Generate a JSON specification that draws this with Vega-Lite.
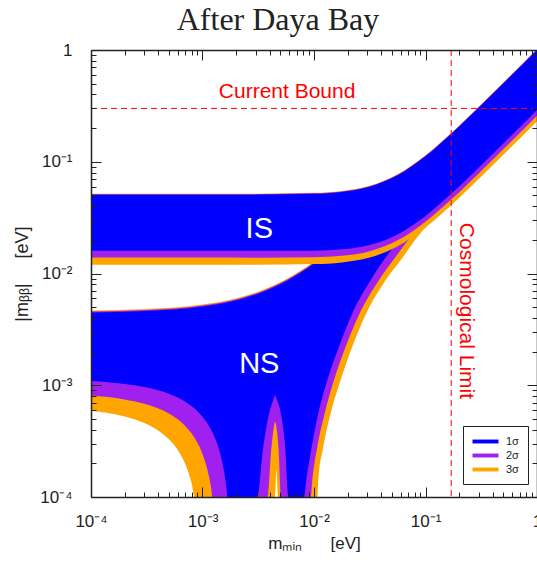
{
  "$schema": "https://vega.github.io/schema/vega-lite/v6.json",
  "width": 446,
  "height": 447,
  "autosize": {"type": "none"},
  "padding": {"left": 91, "top": 50, "right": 0, "bottom": 75},
  "background": "white",
  "config": {"view": {"stroke": null}},
  "title": {"text": "After Daya Bay", "font": "Liberation Serif", "fontSize": 32, "fontWeight": "normal", "color": "#222", "anchor": "middle", "frame": "group", "dx": -36, "dy": 41, "offset": 20, "baseline": "alphabetic"},
  "datasets": {
    "ns_upper": [
      {"sigma": "1σ", "m": 1e-4, "hi": 0.004478}, {"sigma": "1σ", "m": 3.162e-4, "hi": 0.004616}, {"sigma": "1σ", "m": 1e-3, "hi": 0.005064}, {"sigma": "1σ", "m": 1.778e-3, "hi": 0.005597}, {"sigma": "1σ", "m": 3.162e-3, "hi": 0.0066}, {"sigma": "1σ", "m": 5.623e-3, "hi": 0.008532}, {"sigma": "1σ", "m": 0.01, "hi": 0.0123}, {"sigma": "1σ", "m": 0.01778, "hi": 0.01949}, {"sigma": "1σ", "m": 0.03162, "hi": 0.03282}, {"sigma": "1σ", "m": 0.05623, "hi": 0.05701}, {"sigma": "1σ", "m": 0.1, "hi": 0.1005},
      {"sigma": "2σ", "m": 1e-4, "hi": 0.004568}, {"sigma": "2σ", "m": 3.162e-4, "hi": 0.004708}, {"sigma": "2σ", "m": 1e-3, "hi": 0.005165}, {"sigma": "2σ", "m": 1.778e-3, "hi": 0.005709}, {"sigma": "2σ", "m": 3.162e-3, "hi": 0.006732}, {"sigma": "2σ", "m": 5.623e-3, "hi": 0.008703}, {"sigma": "2σ", "m": 0.01, "hi": 0.01255}, {"sigma": "2σ", "m": 0.01778, "hi": 0.01988}, {"sigma": "2σ", "m": 0.03162, "hi": 0.03348}, {"sigma": "2σ", "m": 0.05623, "hi": 0.05815}, {"sigma": "2σ", "m": 0.1, "hi": 0.1025},
      {"sigma": "3σ", "m": 1e-4, "hi": 0.004657}, {"sigma": "3σ", "m": 3.162e-4, "hi": 0.004801}, {"sigma": "3σ", "m": 1e-3, "hi": 0.005267}, {"sigma": "3σ", "m": 1.778e-3, "hi": 0.005821}, {"sigma": "3σ", "m": 3.162e-3, "hi": 0.006864}, {"sigma": "3σ", "m": 5.623e-3, "hi": 0.008873}, {"sigma": "3σ", "m": 0.01, "hi": 0.01279}, {"sigma": "3σ", "m": 0.01778, "hi": 0.02027}, {"sigma": "3σ", "m": 0.03162, "hi": 0.03413}, {"sigma": "3σ", "m": 0.05623, "hi": 0.05929}, {"sigma": "3σ", "m": 0.1, "hi": 0.1045}
    ],
    "ns_lower": [
      {"sigma": "1σ", "m": 1e-4, "lo": 1.09e-3}, {"sigma": "1σ", "m": 2e-4, "lo": 1.027e-3}, {"sigma": "1σ", "m": 3e-4, "lo": 9.64e-4}, {"sigma": "1σ", "m": 5e-4, "lo": 8.38e-4}, {"sigma": "1σ", "m": 7e-4, "lo": 7.12e-4}, {"sigma": "1σ", "m": 9e-4, "lo": 5.86e-4}, {"sigma": "1σ", "m": 1.1e-3, "lo": 4.6e-4}, {"sigma": "1σ", "m": 1.3e-3, "lo": 3.34e-4}, {"sigma": "1σ", "m": 1.4e-3, "lo": 2.71e-4}, {"sigma": "1σ", "m": 1.5e-3, "lo": 2.08e-4}, {"sigma": "1σ", "m": 1.55e-3, "lo": 1.765e-4}, {"sigma": "1σ", "m": 1.6e-3, "lo": 1.45e-4}, {"sigma": "1σ", "m": 1.64e-3, "lo": 1.2e-4}, {"sigma": "1σ", "m": 1.671e-3, "lo": 1e-4},
      {"sigma": "1σ", "m": 3.097e-3, "lo": 1e-4}, {"sigma": "1σ", "m": 3.504e-3, "lo": 2.812e-4}, {"sigma": "1σ", "m": 3.965e-3, "lo": 5.623e-4}, {"sigma": "1σ", "m": 4.303e-3, "lo": 7.344e-4}, {"sigma": "1σ", "m": 4.484e-3, "lo": 8.14e-4}, {"sigma": "1σ", "m": 4.673e-3, "lo": 7.344e-4}, {"sigma": "1σ", "m": 5.043e-3, "lo": 5.623e-4}, {"sigma": "1σ", "m": 5.509e-3, "lo": 2.812e-4}, {"sigma": "1σ", "m": 5.895e-3, "lo": 1e-4},
      {"sigma": "1σ", "m": 8.14e-3, "lo": 1e-4}, {"sigma": "1σ", "m": 8.53e-3, "lo": 1.418e-4}, {"sigma": "1σ", "m": 9.538e-3, "lo": 2.812e-4}, {"sigma": "1σ", "m": 0.010924, "lo": 5.59e-4}, {"sigma": "1σ", "m": 0.013148, "lo": 1.108e-3}, {"sigma": "1σ", "m": 0.016713, "lo": 2.198e-3}, {"sigma": "1σ", "m": 0.02198, "lo": 4.367e-3}, {"sigma": "1σ", "m": 0.03208, "lo": 8.66e-3}, {"sigma": "1σ", "m": 0.04672, "lo": 0.01509}, {"sigma": "1σ", "m": 0.06363, "lo": 0.0214}, {"sigma": "1σ", "m": 0.07813, "lo": 0.0271}, {"sigma": "1σ", "m": 0.1, "lo": 0.03278},
      {"sigma": "2σ", "m": 1e-4, "lo": 8.1e-4}, {"sigma": "2σ", "m": 2e-4, "lo": 7.47e-4}, {"sigma": "2σ", "m": 3e-4, "lo": 6.84e-4}, {"sigma": "2σ", "m": 5e-4, "lo": 5.58e-4}, {"sigma": "2σ", "m": 7e-4, "lo": 4.32e-4}, {"sigma": "2σ", "m": 9e-4, "lo": 3.06e-4}, {"sigma": "2σ", "m": 1e-3, "lo": 2.43e-4}, {"sigma": "2σ", "m": 1.1e-3, "lo": 1.8e-4}, {"sigma": "2σ", "m": 1.15e-3, "lo": 1.485e-4}, {"sigma": "2σ", "m": 1.2e-3, "lo": 1.17e-4}, {"sigma": "2σ", "m": 1.227e-3, "lo": 1e-4},
      {"sigma": "2σ", "m": 3.828e-3, "lo": 1e-4}, {"sigma": "2σ", "m": 4.13e-3, "lo": 2.628e-4}, {"sigma": "2σ", "m": 4.303e-3, "lo": 3.805e-4}, {"sigma": "2σ", "m": 4.484e-3, "lo": 4.701e-4}, {"sigma": "2σ", "m": 4.673e-3, "lo": 3.805e-4}, {"sigma": "2σ", "m": 4.82e-3, "lo": 2.628e-4}, {"sigma": "2σ", "m": 5.074e-3, "lo": 1e-4},
      {"sigma": "2σ", "m": 9.343e-3, "lo": 1e-4}, {"sigma": "2σ", "m": 9.656e-3, "lo": 1.418e-4}, {"sigma": "2σ", "m": 0.010703, "lo": 2.812e-4}, {"sigma": "2σ", "m": 0.012463, "lo": 5.59e-4}, {"sigma": "2σ", "m": 0.01509, "lo": 1.108e-3}, {"sigma": "2σ", "m": 0.01919, "lo": 2.198e-3}, {"sigma": "2σ", "m": 0.02559, "lo": 4.367e-3}, {"sigma": "2σ", "m": 0.03805, "lo": 8.66e-3}, {"sigma": "2σ", "m": 0.05509, "lo": 0.01448}, {"sigma": "2σ", "m": 0.0831, "lo": 0.02445}, {"sigma": "2σ", "m": 0.1, "lo": 0.02908},
      {"sigma": "3σ", "m": 1e-4, "lo": 5.9e-4}, {"sigma": "3σ", "m": 2e-4, "lo": 5.246e-4}, {"sigma": "3σ", "m": 3e-4, "lo": 4.592e-4}, {"sigma": "3σ", "m": 4e-4, "lo": 3.938e-4}, {"sigma": "3σ", "m": 5e-4, "lo": 3.284e-4}, {"sigma": "3σ", "m": 6e-4, "lo": 2.63e-4}, {"sigma": "3σ", "m": 7e-4, "lo": 1.976e-4}, {"sigma": "3σ", "m": 7.5e-4, "lo": 1.649e-4}, {"sigma": "3σ", "m": 8e-4, "lo": 1.322e-4}, {"sigma": "3σ", "m": 8.49e-4, "lo": 1e-4},
      {"sigma": "3σ", "m": 4.457e-3, "lo": 1e-4}, {"sigma": "3σ", "m": 4.607e-3, "lo": 1.742e-4}, {"sigma": "3σ", "m": 4.771e-3, "lo": 1e-4},
      {"sigma": "3σ", "m": 0.010703, "lo": 1e-4}, {"sigma": "3σ", "m": 0.010924, "lo": 1.418e-4}, {"sigma": "3σ", "m": 0.01211, "lo": 2.812e-4}, {"sigma": "3σ", "m": 0.01409, "lo": 5.59e-4}, {"sigma": "3σ", "m": 0.01731, "lo": 1.108e-3}, {"sigma": "3σ", "m": 0.02198, "lo": 2.198e-3}, {"sigma": "3σ", "m": 0.02931, "lo": 4.367e-3}, {"sigma": "3σ", "m": 0.04367, "lo": 8.66e-3}, {"sigma": "3σ", "m": 0.06232, "lo": 0.0139}, {"sigma": "3σ", "m": 0.0866, "lo": 0.02184}, {"sigma": "3σ", "m": 0.1, "lo": 0.02583}, {"sigma": "3σ", "m": 0.11, "lo": 0.0279}
    ],
    "is_band": [
      {"sigma": "1σ", "m": 1e-4, "lo": 0.016, "hi": 0.0507}, {"sigma": "1σ", "m": 1e-3, "lo": 0.01597, "hi": 0.0507}, {"sigma": "1σ", "m": 3.162e-3, "lo": 0.01594, "hi": 0.0508}, {"sigma": "1σ", "m": 0.01, "lo": 0.01602, "hi": 0.05167}, {"sigma": "1σ", "m": 0.01778, "lo": 0.01645, "hi": 0.05372}, {"sigma": "1σ", "m": 0.03162, "lo": 0.01798, "hi": 0.05975}, {"sigma": "1σ", "m": 0.05623, "lo": 0.02239, "hi": 0.07571}, {"sigma": "1σ", "m": 0.1, "lo": 0.03278, "hi": 0.1121}, {"sigma": "1σ", "m": 0.1778, "lo": 0.05377, "hi": 0.1849}, {"sigma": "1σ", "m": 0.3162, "lo": 0.09298, "hi": 0.3203}, {"sigma": "1σ", "m": 0.5623, "lo": 0.1638, "hi": 0.5646}, {"sigma": "1σ", "m": 1, "lo": 0.2904, "hi": 1.0013},
      {"sigma": "2σ", "m": 1e-4, "lo": 0.0139, "hi": 0.05121}, {"sigma": "2σ", "m": 1e-3, "lo": 0.01388, "hi": 0.05121}, {"sigma": "2σ", "m": 3.162e-3, "lo": 0.01386, "hi": 0.05131}, {"sigma": "2σ", "m": 0.01, "lo": 0.01398, "hi": 0.05219}, {"sigma": "2σ", "m": 0.01778, "lo": 0.0144, "hi": 0.05426}, {"sigma": "2σ", "m": 0.03162, "lo": 0.01581, "hi": 0.06035}, {"sigma": "2σ", "m": 0.05623, "lo": 0.0198, "hi": 0.07647}, {"sigma": "2σ", "m": 0.1, "lo": 0.02908, "hi": 0.1132}, {"sigma": "2σ", "m": 0.1778, "lo": 0.04779, "hi": 0.1867}, {"sigma": "2σ", "m": 0.3162, "lo": 0.08269, "hi": 0.3235}, {"sigma": "2σ", "m": 0.5623, "lo": 0.1457, "hi": 0.5702}, {"sigma": "2σ", "m": 1, "lo": 0.2583, "hi": 1.0113},
      {"sigma": "3σ", "m": 1e-4, "lo": 0.012, "hi": 0.05171}, {"sigma": "3σ", "m": 1e-3, "lo": 0.01199, "hi": 0.05171}, {"sigma": "3σ", "m": 3.162e-3, "lo": 0.01199, "hi": 0.05182}, {"sigma": "3σ", "m": 0.01, "lo": 0.01214, "hi": 0.0527}, {"sigma": "3σ", "m": 0.01778, "lo": 0.01256, "hi": 0.05479}, {"sigma": "3σ", "m": 0.03162, "lo": 0.01388, "hi": 0.06095}, {"sigma": "3σ", "m": 0.05623, "lo": 0.0175, "hi": 0.07722}, {"sigma": "3σ", "m": 0.1, "lo": 0.02583, "hi": 0.1144}, {"sigma": "3σ", "m": 0.1778, "lo": 0.04255, "hi": 0.1886}, {"sigma": "3σ", "m": 0.3162, "lo": 0.07369, "hi": 0.3267}, {"sigma": "3σ", "m": 0.5623, "lo": 0.1299, "hi": 0.5759}, {"sigma": "3σ", "m": 1, "lo": 0.2303, "hi": 1.0213}
    ]
  },
  "layer": [
    {
      "data": {"name": "ns_upper"},
      "transform": [{"filter": "datum.sigma === '3σ'"}],
      "mark": {"type": "area", "interpolate": "monotone", "clip": true},
      "encoding": {
        "x": {"field": "m", "type": "quantitative", "scale": {"type": "log", "domain": [0.0001, 1]},
          "axis": {"orient": "bottom", "values": [0.0001,0.0002,0.0003,0.0004,0.0005,0.0006,0.0007,0.0008,0.0009,0.001,0.002,0.003,0.004,0.005,0.006,0.007,0.008,0.009,0.01,0.02,0.03,0.04,0.05,0.06,0.07,0.08,0.09,0.1,0.2,0.3,0.4,0.5,0.6,0.7,0.8,0.9,1], "ticks": false,
            "labelExpr": "abs(log(datum.value)/LN10 - round(log(datum.value)/LN10)) > 0.001 ? '' : datum.value > 0.5 ? '1' : datum.value > 0.05 ? '10⁻¹' : datum.value > 0.005 ? '10⁻²' : datum.value > 0.0005 ? '10⁻³' : '10⁻⁴'",
            "grid": true, "gridColor": "#222", "gridWidth": 1, "gridOpacity": 1,
            "gridDash": {"condition": {"test": "abs(log(datum.value)/LN10 - round(log(datum.value)/LN10)) < 0.001", "value": [10, 427, 10]}, "value": [5, 437, 5]},
            "domain": true, "domainColor": "#222", "domainWidth": 1.5,
            "labelFont": "Liberation Sans", "labelFontSize": 17, "labelColor": "#222", "labelPadding": 16, "labelFlush": false, "labelOverlap": false, "labelBound": false,
            "title": "mₘᵢₙ\u00a0\u00a0\u00a0\u00a0\u00a0\u00a0[eV]", "titleFont": "Liberation Sans", "titleFontSize": 17, "titleFontWeight": "normal", "titleColor": "#222", "titlePadding": 6, "zindex": 1}},
        "y": {"field": "hi", "type": "quantitative", "scale": {"type": "log", "domain": [0.0001, 1]},
          "axis": {"orient": "left", "values": [0.0001,0.0002,0.0003,0.0004,0.0005,0.0006,0.0007,0.0008,0.0009,0.001,0.002,0.003,0.004,0.005,0.006,0.007,0.008,0.009,0.01,0.02,0.03,0.04,0.05,0.06,0.07,0.08,0.09,0.1,0.2,0.3,0.4,0.5,0.6,0.7,0.8,0.9,1], "ticks": false,
            "labelExpr": "abs(log(datum.value)/LN10 - round(log(datum.value)/LN10)) > 0.001 ? '' : datum.value > 0.5 ? '1' : datum.value > 0.05 ? '10⁻¹' : datum.value > 0.005 ? '10⁻²' : datum.value > 0.0005 ? '10⁻³' : '10⁻⁴'",
            "grid": true, "gridColor": "#222", "gridWidth": 1, "gridOpacity": 1,
            "gridDash": {"condition": {"test": "abs(log(datum.value)/LN10 - round(log(datum.value)/LN10)) < 0.001", "value": [10, 426, 10]}, "value": [5, 436, 5]},
            "domain": true, "domainColor": "#222", "domainWidth": 1.5,
            "labelFont": "Liberation Sans", "labelFontSize": 17, "labelColor": "#222", "labelPadding": 19, "labelFlush": false, "labelOverlap": false, "labelBound": false,
            "title": "|mᵦᵦ|\u00a0\u00a0\u00a0\u00a0\u00a0[eV]", "titleFont": "Liberation Sans", "titleFontSize": 18, "titleFontWeight": "normal", "titleColor": "#222", "titlePadding": 8, "zindex": 1}},
        "y2": {"datum": 0.0001},
        "color": {"field": "sigma", "type": "nominal", "scale": {"domain": ["1σ", "2σ", "3σ"], "range": ["#0000ff", "#a020f0", "#ffa500"]},
          "legend": {"orient": "none", "legendX": 372, "legendY": 376, "title": null, "symbolType": "M-2,-0.3H2V0.3H-2Z", "symbolSize": 169, "symbolStrokeWidth": 0, "symbolOffset": 7, "labelFont": "Liberation Sans", "labelFontSize": 11, "labelColor": "#222", "labelOffset": 14, "strokeColor": "#222", "fillColor": "white", "padding": 9, "rowPadding": 2}}
      }
    },
    {
      "data": {"name": "ns_upper"},
      "transform": [{"filter": "datum.sigma === '2σ'"}],
      "mark": {"type": "area", "interpolate": "monotone", "clip": true},
      "encoding": {
        "x": {"field": "m", "type": "quantitative", "scale": {"type": "log", "domain": [0.0001, 1]},
          "axis": {"orient": "top", "ticks": false, "labels": false, "title": null, "domain": true, "domainColor": "#222", "domainWidth": 1.5, "grid": false, "zindex": 1}},
        "y": {"field": "hi", "type": "quantitative", "scale": {"type": "log", "domain": [0.0001, 1]},
          "axis": {"orient": "right", "ticks": false, "labels": false, "title": null, "domain": true, "domainColor": "#222", "domainWidth": 1.5, "grid": false, "zindex": 1}},
        "y2": {"datum": 0.0001},
        "color": {"field": "sigma", "type": "nominal", "scale": {"domain": ["1σ", "2σ", "3σ"], "range": ["#0000ff", "#a020f0", "#ffa500"]}}
      }
    },
    {
      "data": {"name": "ns_upper"},
      "transform": [{"filter": "datum.sigma === '1σ'"}],
      "mark": {"type": "area", "interpolate": "monotone", "clip": true},
      "encoding": {
        "x": {"field": "m", "type": "quantitative", "scale": {"type": "log", "domain": [0.0001, 1]}, "axis": null},
        "y": {"field": "hi", "type": "quantitative", "scale": {"type": "log", "domain": [0.0001, 1]}, "axis": null},
        "y2": {"datum": 0.0001},
        "color": {"field": "sigma", "type": "nominal", "scale": {"domain": ["1σ", "2σ", "3σ"], "range": ["#0000ff", "#a020f0", "#ffa500"]}}
      }
    },
    {
      "data": {"name": "ns_lower"},
      "transform": [{"filter": "datum.sigma === '1σ'"}],
      "mark": {"type": "area", "interpolate": "monotone", "clip": true, "fill": "#a020f0"},
      "encoding": {
        "x": {"field": "m", "type": "quantitative", "scale": {"type": "log", "domain": [0.0001, 1]}, "axis": null},
        "y": {"field": "lo", "type": "quantitative", "scale": {"type": "log", "domain": [0.0001, 1]}, "axis": null},
        "y2": {"datum": 0.0001}
      }
    },
    {
      "data": {"name": "ns_lower"},
      "transform": [{"filter": "datum.sigma === '2σ'"}],
      "mark": {"type": "area", "interpolate": "monotone", "clip": true, "fill": "#ffa500"},
      "encoding": {
        "x": {"field": "m", "type": "quantitative", "scale": {"type": "log", "domain": [0.0001, 1]}, "axis": null},
        "y": {"field": "lo", "type": "quantitative", "scale": {"type": "log", "domain": [0.0001, 1]}, "axis": null},
        "y2": {"datum": 0.0001}
      }
    },
    {
      "data": {"name": "ns_lower"},
      "transform": [{"filter": "datum.sigma === '3σ'"}],
      "mark": {"type": "area", "interpolate": "monotone", "clip": true, "fill": "white"},
      "encoding": {
        "x": {"field": "m", "type": "quantitative", "scale": {"type": "log", "domain": [0.0001, 1]}, "axis": null},
        "y": {"field": "lo", "type": "quantitative", "scale": {"type": "log", "domain": [0.0001, 1]}, "axis": null},
        "y2": {"datum": 0.0001}
      }
    },
    {
      "data": {"name": "is_band"},
      "transform": [{"filter": "datum.sigma === '3σ'"}],
      "mark": {"type": "area", "interpolate": "monotone", "clip": true},
      "encoding": {
        "x": {"field": "m", "type": "quantitative", "scale": {"type": "log", "domain": [0.0001, 1]}, "axis": null},
        "y": {"field": "hi", "type": "quantitative", "scale": {"type": "log", "domain": [0.0001, 1]}, "axis": null},
        "y2": {"field": "lo"},
        "color": {"field": "sigma", "type": "nominal", "scale": {"domain": ["1σ", "2σ", "3σ"], "range": ["#0000ff", "#a020f0", "#ffa500"]}}
      }
    },
    {
      "data": {"name": "is_band"},
      "transform": [{"filter": "datum.sigma === '2σ'"}],
      "mark": {"type": "area", "interpolate": "monotone", "clip": true},
      "encoding": {
        "x": {"field": "m", "type": "quantitative", "scale": {"type": "log", "domain": [0.0001, 1]}, "axis": null},
        "y": {"field": "hi", "type": "quantitative", "scale": {"type": "log", "domain": [0.0001, 1]}, "axis": null},
        "y2": {"field": "lo"},
        "color": {"field": "sigma", "type": "nominal", "scale": {"domain": ["1σ", "2σ", "3σ"], "range": ["#0000ff", "#a020f0", "#ffa500"]}}
      }
    },
    {
      "data": {"name": "is_band"},
      "transform": [{"filter": "datum.sigma === '1σ'"}],
      "mark": {"type": "area", "interpolate": "monotone", "clip": true},
      "encoding": {
        "x": {"field": "m", "type": "quantitative", "scale": {"type": "log", "domain": [0.0001, 1]}, "axis": null},
        "y": {"field": "hi", "type": "quantitative", "scale": {"type": "log", "domain": [0.0001, 1]}, "axis": null},
        "y2": {"field": "lo"},
        "color": {"field": "sigma", "type": "nominal", "scale": {"domain": ["1σ", "2σ", "3σ"], "range": ["#0000ff", "#a020f0", "#ffa500"]}}
      }
    },
    {
      "data": {"values": [{"bound": 0.3}]},
      "mark": {"type": "rule", "color": "#ff0000", "strokeWidth": 1, "strokeDash": [6, 4]},
      "encoding": {"y": {"field": "bound", "type": "quantitative", "scale": {"type": "log", "domain": [0.0001, 1]}, "axis": null}}
    },
    {
      "data": {"values": [{"limit": 0.17}]},
      "mark": {"type": "rule", "color": "#ff0000", "strokeWidth": 1, "strokeDash": [6, 4]},
      "encoding": {"x": {"field": "limit", "type": "quantitative", "scale": {"type": "log", "domain": [0.0001, 1]}, "axis": null}}
    },
    {
      "data": {"values": [{"region": "IS", "m": 0.00323, "mbb": 0.0252}, {"region": "NS", "m": 0.00323, "mbb": 0.00154}]},
      "mark": {"type": "text", "font": "Liberation Sans", "fontSize": 29, "fill": "white", "align": "center", "baseline": "middle"},
      "encoding": {
        "x": {"field": "m", "type": "quantitative", "scale": {"type": "log", "domain": [0.0001, 1]}, "axis": null},
        "y": {"field": "mbb", "type": "quantitative", "scale": {"type": "log", "domain": [0.0001, 1]}, "axis": null},
        "text": {"field": "region"}
      }
    },
    {
      "data": {"values": [{"note": "Current Bound", "m": 0.00574, "mbb": 0.3727}]},
      "mark": {"type": "text", "font": "Liberation Sans", "fontSize": 21, "fill": "#ff0000", "align": "center", "baseline": "alphabetic"},
      "encoding": {
        "x": {"field": "m", "type": "quantitative", "scale": {"type": "log", "domain": [0.0001, 1]}, "axis": null},
        "y": {"field": "mbb", "type": "quantitative", "scale": {"type": "log", "domain": [0.0001, 1]}, "axis": null},
        "text": {"field": "note"}
      }
    },
    {
      "data": {"values": [{"note": "Cosmological Limit", "m": 0.2323, "mbb": 0.00462}]},
      "mark": {"type": "text", "font": "Liberation Sans", "fontSize": 21, "fill": "#ff0000", "align": "center", "baseline": "middle", "angle": 90},
      "encoding": {
        "x": {"field": "m", "type": "quantitative", "scale": {"type": "log", "domain": [0.0001, 1]}, "axis": null},
        "y": {"field": "mbb", "type": "quantitative", "scale": {"type": "log", "domain": [0.0001, 1]}, "axis": null},
        "text": {"field": "note"}
      }
    }
  ],
  "resolve": {"axis": {"x": "independent", "y": "independent"}}
}
